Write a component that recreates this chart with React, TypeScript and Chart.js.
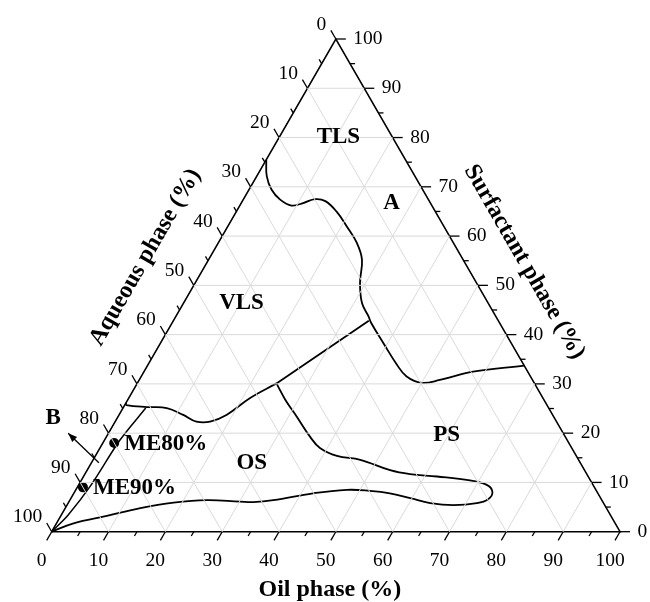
import React, { useEffect, useRef } from "react";
import { Chart, registerables } from "chart.js";

Chart.register(...registerables);

const SQ = Math.sqrt(3) / 2;

// tick values (percent) for all three ternary axes
const MAJOR_TICKS = [0, 10, 20, 30, 40, 50, 60, 70, 80, 90, 100];
const MINOR_TICKS = [5, 15, 25, 35, 45, 55, 65, 75, 85, 95];
const GRID_VALUES = [10, 20, 30, 40, 50, 60, 70, 80, 90];

// phase boundaries, as (oil %, surfactant %); aqueous = 100 - oil - surfactant
const tlsBoundaryOil = [0, 1.8, 4.0, 6.5, 9.1, 10.9, 12.6, 14.6, 17.6, 20.9, 24.4, 27.0, 29.0, 31.4, 33.9, 35.1, 39.2, 43.8, 46.7, 50.0, 52.9, 57.9, 66.3];
const tlsBoundarySurf = [75.5, 72.1, 69.4, 67.4, 66.2, 66.7, 67.5, 67.1, 65.0, 62.0, 58.6, 55.2, 50.5, 46.4, 43.7, 42.3, 38.3, 33.9, 31.5, 30.2, 30.8, 32.5, 33.7];

const dividerOil = [34.4, 24.5];
const dividerSurf = [42.8, 30.1];

const vlsOsOil = [24.5, 21.3, 18.9, 16.7, 14.3, 11.3, 7.7, 4.1, 0.3, 0];
const vlsOsSurf = [30.1, 27.1, 23.7, 22.35, 22.35, 23.7, 25.1, 25.3, 25.7, 26.1];

const innerLineOil = [0, 1.2, 2.2, 2.7, 4.0];
const innerLineSurf = [0, 3.4, 9.5, 18.5, 25.1];

const osPsOil = [24.5, 27.7, 31.4, 35.8, 38.7, 42.5, 47.0, 53.3, 57.2, 62.2, 68.4, 71.8, 73.5, 73.5, 71.9, 68.0, 63.7, 59.7, 55.6, 51.8, 47.7, 42.1, 35.8, 32.5, 30.1, 24.1, 18.5, 13.2, 8.1, 3.0, 0];
const osPsSurf = [30.1, 26.8, 23.4, 19.3, 17.0, 15.4, 14.6, 12.5, 11.7, 11.2, 10.4, 9.5, 8.1, 6.6, 5.8, 5.4, 5.8, 6.8, 7.8, 8.3, 8.5, 7.8, 6.4, 6.0, 6.1, 6.4, 5.9, 4.8, 3.2, 1.7, 0];

// microemulsion formulations
const meLabels = ["ME80%", "ME90%"];
const meOil = [2, 1];
const meSurf = [18, 9];

// region labels
const regionNames = ["TLS", "A", "VLS", "OS", "PS"];
const regionOil = [10.4, 26.4, 10.2, 28.2, 59.7];
const regionSurf = [80.1, 66.8, 46.4, 14.0, 19.6];

const toXY = (oil: number, surf: number) => ({ x: oil + surf / 2, y: surf * SQ });
const series = (oil: number[], surf: number[]) => oil.map((o, i) => toXY(o, surf[i]));

const SERIF = '"Liberation Serif", "Times New Roman", serif';

const ternaryPlugin = {
  id: "ternaryDecor",
  afterDatasetsDraw(chart: any) {
    const { ctx } = chart;
    const sx = chart.scales.x;
    const sy = chart.scales.y;
    const P = (oil: number, surf: number) => {
      const q = toXY(oil, surf);
      return { x: sx.getPixelForValue(q.x), y: sy.getPixelForValue(q.y) };
    };
    ctx.save();
    ctx.strokeStyle = "#000";
    ctx.fillStyle = "#000";
    ctx.lineWidth = 1.3;
    const drawTick = (p: any, dx: number, dy: number, len: number) => {
      ctx.beginPath();
      ctx.moveTo(p.x, p.y);
      ctx.lineTo(p.x + dx * len, p.y + dy * len);
      ctx.stroke();
    };
    const all = [...MAJOR_TICKS.map((v) => [v, 10]), ...MINOR_TICKS.map((v) => [v, 5])];
    all.forEach(([v, len]) => {
      drawTick(P(v, 0), -0.5, SQ, len); // oil (bottom)
      drawTick(P(100 - v, v), 1, 0, len); // surfactant (right)
      drawTick(P(0, 100 - v), -0.5, -SQ, len); // aqueous (left)
    });

    ctx.font = `19.5px ${SERIF}`;
    ctx.textBaseline = "middle";
    MAJOR_TICKS.forEach((v) => {
      const b = P(v, 0);
      ctx.textAlign = "center";
      ctx.fillText(String(v), b.x - 10, b.y + 29);
      const r = P(100 - v, v);
      ctx.textAlign = "left";
      ctx.fillText(String(v), r.x + 17.5, r.y);
      const l = P(0, 100 - v);
      ctx.textAlign = "right";
      ctx.fillText(String(v), l.x - 9.5, l.y - 14.5);
    });

    // axis titles
    ctx.font = `bold 24px ${SERIF}`;
    ctx.textAlign = "center";
    const bm = P(50, 0);
    ctx.fillText("Oil phase (%)", bm.x - 6, bm.y + 58);
    const lm = P(0, 50);
    ctx.save();
    ctx.translate(lm.x - 56 * SQ, lm.y - 56 * 0.5);
    ctx.rotate(-Math.PI / 3);
    ctx.fillText("Aqueous phase (%)", 0, 0);
    ctx.restore();
    const rm = P(50, 50);
    ctx.save();
    ctx.translate(rm.x + 52 * SQ + 3 * 0.5, rm.y - 52 * 0.5 + 3 * SQ);
    ctx.rotate(Math.PI / 3);
    ctx.fillText("Surfactant phase (%)", 0, 0);
    ctx.restore();

    // region labels
    ctx.font = `bold 23px ${SERIF}`;
    ctx.textAlign = "center";
    regionNames.forEach((n, i) => {
      const p = P(regionOil[i], regionSurf[i]);
      ctx.fillText(n, p.x, p.y);
    });
    ctx.textAlign = "left";
    meLabels.forEach((n, i) => {
      const p = P(meOil[i], meSurf[i]);
      ctx.fillText(n, p.x + 10, p.y + 1);
    });
    // direction B
    const a0 = P(1.3, 14);
    const a1 = P(-7.1, 20);
    const bl = P(-11.3, 23.1);
    ctx.textAlign = "center";
    ctx.fillText("B", bl.x, bl.y);
    ctx.lineWidth = 1.3;
    ctx.beginPath();
    ctx.moveTo(a0.x, a0.y);
    ctx.lineTo(a1.x, a1.y);
    ctx.stroke();
    const ang = Math.atan2(a1.y - a0.y, a1.x - a0.x);
    const hl = 9, hw = 3.5;
    ctx.beginPath();
    ctx.moveTo(a1.x, a1.y);
    ctx.lineTo(a1.x - hl * Math.cos(ang) + hw * Math.sin(ang), a1.y - hl * Math.sin(ang) - hw * Math.cos(ang));
    ctx.lineTo(a1.x - hl * Math.cos(ang) - hw * Math.sin(ang), a1.y - hl * Math.sin(ang) + hw * Math.cos(ang));
    ctx.closePath();
    ctx.fill();
    ctx.restore();
  },
};

export default function App() {
  const ref = useRef<HTMLCanvasElement | null>(null);
  useEffect(() => {
    if (!ref.current) return;
    const lineDs = (data: any[], opts: any = {}) => ({
      type: "line",
      data,
      borderColor: "#000",
      borderWidth: 1.8,
      pointRadius: 0,
      fill: false,
      tension: 0,
      clip: false,
      ...opts,
    });
    const grid: any[] = [];
    GRID_VALUES.forEach((v) => {
      grid.push(lineDs([toXY(0, v), toXY(100 - v, v)], { borderColor: "#dadada", borderWidth: 1 }));
      grid.push(lineDs([toXY(v, 0), toXY(v, 100 - v)], { borderColor: "#dadada", borderWidth: 1 }));
      grid.push(lineDs([toXY(100 - v, 0), toXY(0, 100 - v)], { borderColor: "#dadada", borderWidth: 1 }));
    });
    const datasets: any[] = [
      ...grid,
      lineDs([toXY(0, 0), toXY(100, 0), toXY(0, 100), toXY(0, 0)], { borderWidth: 1.6 }),
      lineDs(series(tlsBoundaryOil, tlsBoundarySurf), { tension: 0.4 }),
      lineDs(series(dividerOil, dividerSurf)),
      lineDs(series(vlsOsOil, vlsOsSurf), { tension: 0.4 }),
      lineDs(series(innerLineOil, innerLineSurf), { borderWidth: 1.5, tension: 0.3 }),
      lineDs(series(osPsOil, osPsSurf), { tension: 0.4 }),
      {
        type: "scatter",
        data: series(meOil, meSurf),
        pointRadius: 5,
        pointBorderWidth: 0,
        pointBackgroundColor: "#000",
        pointBorderColor: "#000",
        showLine: false,
        clip: false,
      },
    ];
    const chart = new Chart(ref.current, {
      type: "scatter",
      data: { datasets },
      options: {
        animation: false,
        responsive: false,
        devicePixelRatio: 1,
        events: [],
        layout: { padding: { left: 51.7, right: 30, top: 39, bottom: 70.3 } },
        scales: {
          x: { type: "linear", min: 0, max: 100, display: false },
          y: { type: "linear", min: 0, max: 100 * SQ, display: false },
        },
        plugins: { legend: { display: false }, tooltip: { enabled: false } },
      },
      plugins: [ternaryPlugin],
    } as any);
    return () => chart.destroy();
  }, []);
  return (
    <div style={{ position: "absolute", left: 0, top: 0, width: 650, height: 602, background: "#fff" }}>
      <canvas ref={ref} width={650} height={602} style={{ display: "block", width: 650, height: 602 }} />
    </div>
  );
}
